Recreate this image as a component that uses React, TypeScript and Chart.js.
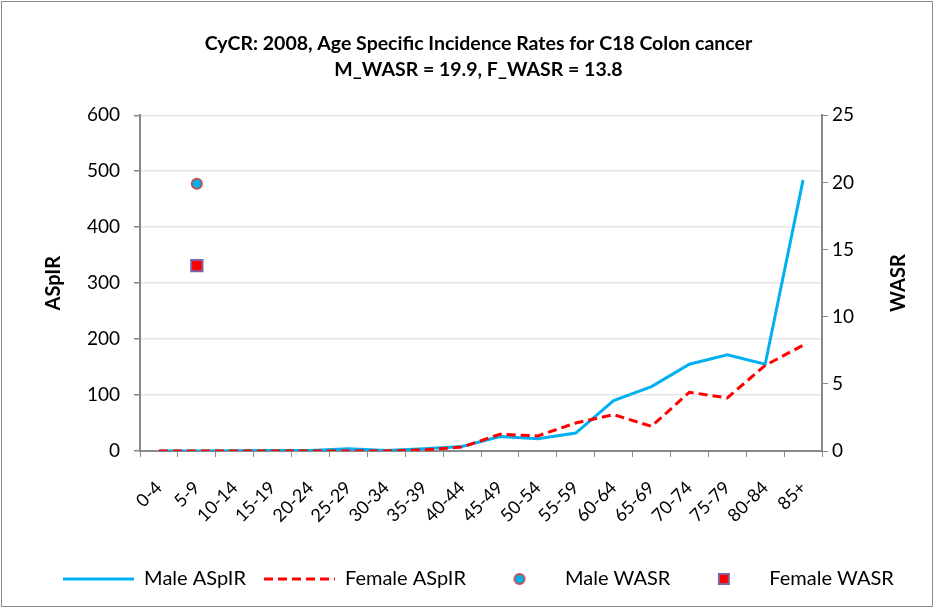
import React, { useEffect, useRef } from 'react';
import { Chart, registerables } from 'chart.js';

Chart.register(...registerables);

const categories = ['0-4', '5-9', '10-14', '15-19', '20-24', '25-29', '30-34', '35-39', '40-44', '45-49', '50-54', '55-59', '60-64', '65-69', '70-74', '75-79', '80-84', '85+'];
const maleASpIR = [0, 0, 0.5, 1, 1, 4, 1, 4, 8, 26, 22, 32, 90, 115, 155, 172, 155, 484];
const femaleASpIR = [0, 0, 0, 0, 0, 0, 0, 2, 7, 30, 27, 50, 65, 44, 105, 95, 153, 189];
const wasrCategory = '5-9';
const maleWASR = 19.9;
const femaleWASR = 13.8;
const titleLines = ['CyCR: 2008, Age Specific Incidence Rates for C18 Colon cancer', 'M_WASR = 19.9, F_WASR = 13.8'];
const legendLabels = ['Male ASpIR', 'Female ASpIR', 'Male WASR', 'Female WASR'];
const leftMax = 600;
const leftStep = 100;
const rightMax = 25;
const rightStep = 5;

const BLUE = '#00B0F0';
const RED = '#FF0000';
const FONT = 'Lato';
const BOX_W = 71;

function makeLineImg(color: string, dash: number[]) {
  const c = document.createElement('canvas');
  c.width = BOX_W; c.height = 4;
  const g = c.getContext('2d')!;
  g.strokeStyle = color; g.lineWidth = 3; g.setLineDash(dash);
  g.beginPath(); g.moveTo(0, 2); g.lineTo(BOX_W, 2); g.stroke();
  return c;
}
function makeCircleImg() {
  const c = document.createElement('canvas');
  c.width = 14; c.height = 14;
  const g = c.getContext('2d')!;
  g.fillStyle = BLUE; g.strokeStyle = '#C0504D'; g.lineWidth = 2;
  g.beginPath(); g.arc(7, 7, 5, 0, Math.PI * 2); g.fill(); g.stroke();
  return c;
}
function makeSquareImg() {
  const c = document.createElement('canvas');
  c.width = 14; c.height = 14;
  const g = c.getContext('2d')!;
  g.fillStyle = RED; g.strokeStyle = '#8064A2'; g.lineWidth = 2;
  g.fillRect(2, 2, 10, 10); g.strokeRect(2, 2, 10, 10);
  return c;
}

export default function App() {
  const ref = useRef<HTMLCanvasElement>(null);
  useEffect(() => {
    const imgs = [makeLineImg(BLUE, []), makeLineImg(RED, [9, 5]), makeCircleImg(), makeSquareImg()];
    const extras = {
      id: 'extras',
      afterDraw(chart: any) {
        const { ctx, chartArea } = chart;
        ctx.save();
        ctx.strokeStyle = '#8a8a8a';
        ctx.lineWidth = 1;
        ctx.strokeRect(1.5, 1.5, 931, 605);
        ctx.fillStyle = '#000';
        ctx.font = `bold 20px ${FONT}`;
        ctx.textAlign = 'center';
        ctx.textBaseline = 'middle';
        const mid = (chartArea.top + chartArea.bottom) / 2;
        ctx.save();
        ctx.translate(chartArea.left - 86, mid);
        ctx.rotate(-Math.PI / 2);
        ctx.fillText('ASpIR', 0, 0);
        ctx.restore();
        ctx.save();
        ctx.translate(chartArea.right + 77, mid);
        ctx.rotate(-Math.PI / 2);
        ctx.fillText('WASR', 0, 0);
        ctx.restore();
        ctx.restore();
      },
    };
    const chart = new Chart(ref.current!, {
      type: 'line',
      data: {
        labels: categories,
        datasets: [
          { label: legendLabels[0], order: 3, data: maleASpIR, borderColor: BLUE, backgroundColor: BLUE, borderWidth: 3, pointRadius: 0, yAxisID: 'y', tension: 0 },
          { label: legendLabels[1], order: 2, data: femaleASpIR, borderColor: RED, backgroundColor: RED, borderWidth: 3, borderDash: [9, 5], pointRadius: 0, yAxisID: 'y', tension: 0 },
          { label: legendLabels[2], order: 1, data: [{ x: wasrCategory, y: maleWASR }] as any, showLine: false, pointStyle: 'circle', pointRadius: 5, pointBorderWidth: 2, pointBackgroundColor: BLUE, pointBorderColor: '#C0504D', yAxisID: 'y1' },
          { label: legendLabels[3], order: 0, data: [{ x: wasrCategory, y: femaleWASR }] as any, showLine: false, pointStyle: 'rect', pointRadius: 8, pointBorderWidth: 2, pointBackgroundColor: RED, pointBorderColor: '#8064A2', yAxisID: 'y1' },
        ],
      },
      options: {
        responsive: false,
        animation: false,
        layout: { padding: { left: 22, right: 0, top: 8, bottom: 10 } },
        plugins: {
          tooltip: { enabled: false },
          title: {
            display: true,
            text: titleLines,
            color: '#000',
            font: { family: FONT, size: 19.5, weight: 'bold', lineHeight: 1.34 },
            padding: { top: 23, bottom: 32 },
          },
          legend: {
            position: 'bottom',
            labels: {
              usePointStyle: true,
              pointStyleWidth: BOX_W,
              boxHeight: 14,
              padding: 18,
              color: '#000',
              font: { family: FONT, size: 20 },
              generateLabels: () => legendLabels.map((t, i) => ({
                text: t, pointStyle: imgs[i] as any, datasetIndex: i, hidden: false, fontColor: '#000', lineWidth: 0, strokeStyle: 'transparent', fillStyle: 'transparent',
              })),
            },
          },
        },
        scales: {
          x: {
            type: 'category',
            offset: true,
            grid: { offset: true, drawOnChartArea: false, drawTicks: true, tickLength: 6, tickColor: '#8a8a8a' },
            border: { color: '#8a8a8a', width: 2 },
            ticks: { minRotation: 45, maxRotation: 45, color: '#000', font: { family: FONT, size: 18 }, padding: 20, autoSkip: false },
            afterFit: (s: any) => { s.height = 100; },
          },
          y: {
            position: 'left',
            min: 0, max: leftMax,
            ticks: { stepSize: leftStep, color: '#000', font: { family: FONT, size: 19 }, padding: 14 },
            grid: { color: '#e6e6e6', lineWidth: 1.5, tickColor: '#8a8a8a', tickLength: 6 },
            border: { color: '#8a8a8a', width: 2 },
            afterFit: (s: any) => { s.width = 118; },
          },
          y1: {
            position: 'right',
            min: 0, max: rightMax,
            ticks: { stepSize: rightStep, color: '#000', font: { family: FONT, size: 19 }, padding: 4 },
            grid: { drawOnChartArea: false, tickColor: '#8a8a8a', tickLength: 6 },
            border: { color: '#8a8a8a', width: 2 },
            afterFit: (s: any) => { s.width = 113; },
          },
        },
      },
      plugins: [extras],
    });
    return () => chart.destroy();
  }, []);
  return (
    <div style={{ position: 'absolute', left: 0, top: 0, width: 935, height: 609, background: '#fff' }}>
      <canvas ref={ref} width={935} height={609} />
    </div>
  );
}
